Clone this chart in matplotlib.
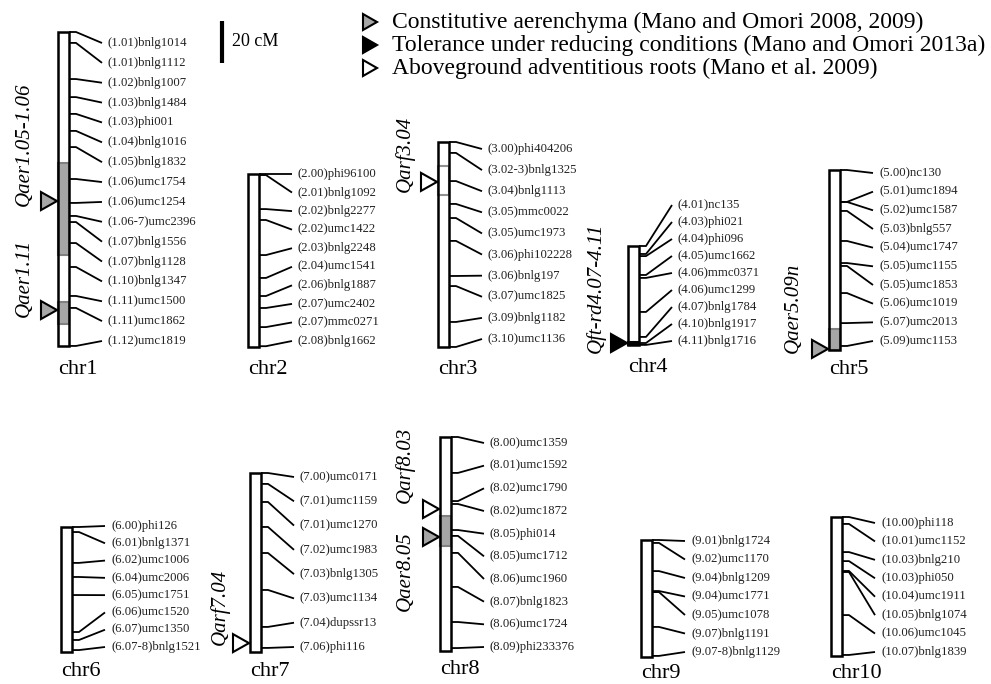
import matplotlib
matplotlib.use("Agg")
import matplotlib.pyplot as plt
from matplotlib.patches import Rectangle, Polygon

plt.rcParams['font.family'] = ['Liberation Serif', 'DejaVu Serif']

# ---------------- data (map positions in cM from top of linkage group) ----------------
chr1_markers = ["(1.01)bnlg1014", "(1.01)bnlg1112", "(1.02)bnlg1007", "(1.03)bnlg1484", "(1.03)phi001",
                "(1.04)bnlg1016", "(1.05)bnlg1832", "(1.06)umc1754", "(1.06)umc1254", "(1.06-7)umc2396",
                "(1.07)bnlg1556", "(1.07)bnlg1128", "(1.10)bnlg1347", "(1.11)umc1500", "(1.11)umc1862",
                "(1.12)umc1819"]
chr1_cm = [0, 5.2, 22.4, 31.0, 39.0, 47.1, 54.8, 70.0, 81.4, 87.6, 90.5, 100.5, 111.9, 125.7, 131.4, 149.5]

chr2_markers = ["(2.00)phi96100", "(2.01)bnlg1092", "(2.02)bnlg2277", "(2.02)umc1422", "(2.03)bnlg2248",
                "(2.04)umc1541", "(2.06)bnlg1887", "(2.07)umc2402", "(2.07)mmc0271", "(2.08)bnlg1662"]
chr2_cm = [0, 0.5, 16.7, 21.9, 38.6, 49.5, 58.1, 63.8, 72.9, 82.0]

chr3_markers = ["(3.00)phi404206", "(3.02-3)bnlg1325", "(3.04)bnlg1113", "(3.05)mmc0022", "(3.05)umc1973",
                "(3.06)phi102228", "(3.06)bnlg197", "(3.07)umc1825", "(3.09)bnlg1182", "(3.10)umc1136"]
chr3_cm = [0, 5.2, 18.6, 29.5, 36.2, 47.1, 63.8, 68.6, 85.7, 97.6]

chr4_markers = ["(4.01)nc135", "(4.03)phi021", "(4.04)phi096", "(4.05)umc1662", "(4.06)mmc0371",
                "(4.06)umc1299", "(4.07)bnlg1784", "(4.10)bnlg1917", "(4.11)bnlg1716"]
chr4_cm = [0, 3.8, 4.8, 13.8, 15.2, 31.4, 43.3, 46.2, 47.1]

chr5_markers = ["(5.00)nc130", "(5.01)umc1894", "(5.02)umc1587", "(5.03)bnlg557", "(5.04)umc1747",
                "(5.05)umc1155", "(5.05)umc1853", "(5.06)umc1019", "(5.07)umc2013", "(5.09)umc1153"]
chr5_cm = [0, 15.2, 15.2, 19.5, 33.8, 44.3, 45.7, 58.6, 72.9, 83.8]

chr6_markers = ["(6.00)phi126", "(6.01)bnlg1371", "(6.02)umc1006", "(6.04)umc2006", "(6.05)umc1751",
                "(6.06)umc1520", "(6.07)umc1350", "(6.07-8)bnlg1521"]
chr6_cm = [0, 2.4, 17.1, 23.8, 32.4, 50.0, 53.8, 58.6]

chr7_markers = ["(7.00)umc0171", "(7.01)umc1159", "(7.01)umc1270", "(7.02)umc1983", "(7.03)bnlg1305",
                "(7.03)umc1134", "(7.04)dupssr13", "(7.06)phi116"]
chr7_cm = [0, 5.2, 13.8, 25.7, 38.1, 55.7, 73.3, 83.3]

chr8_markers = ["(8.00)umc1359", "(8.01)umc1592", "(8.02)umc1790", "(8.02)umc1872", "(8.05)phi014",
                "(8.05)umc1712", "(8.06)umc1960", "(8.07)bnlg1823", "(8.06)umc1724", "(8.09)phi233376"]
chr8_cm = [0, 17.1, 30.5, 31.9, 44.3, 47.1, 55.2, 71.4, 88.1, 100.5]

chr9_markers = ["(9.01)bnlg1724", "(9.02)umc1170", "(9.04)bnlg1209", "(9.04)umc1771", "(9.05)umc1078",
                "(9.07)bnlg1191", "(9.07-8)bnlg1129"]
chr9_cm = [0, 1.4, 14.8, 24.3, 24.8, 41.4, 55.2]

chr10_markers = ["(10.00)phi118", "(10.01)umc1152", "(10.03)bnlg210", "(10.03)phi050", "(10.04)umc1911",
                 "(10.05)bnlg1074", "(10.06)umc1045", "(10.07)bnlg1839"]
chr10_cm = [0, 3.3, 16.7, 21.0, 25.7, 26.2, 46.7, 65.7]

chr_names = ["chr1", "chr2", "chr3", "chr4", "chr5", "chr6", "chr7", "chr8", "chr9", "chr10"]
chr_length_cm = [149.5, 82.4, 97.6, 47.1, 85.7, 59.5, 85.2, 101.9, 55.7, 66.2]

qtl_names = ["Qaer1.05-1.06", "Qaer1.11", "Qarf3.04", "Qft-rd4.07-4.11", "Qaer5.09n",
             "Qarf7.04", "Qarf8.03", "Qaer8.05"]
qtl_chr = [1, 1, 3, 4, 5, 7, 8, 8]
qtl_start_cm = [62.4, 128.6, 11.4, 45.7, 75.7, None, None, 37.6]
qtl_end_cm = [106.2, 139.0, 25.2, 47.1, 85.7, None, None, 51.9]
qtl_peak_cm = [80.5, 132.4, 19.0, 46.2, 85.2, 81.0, 34.3, 47.6]
qtl_trait = ["aer", "aer", "arf", "ft", "aer", "arf", "arf", "aer"]

legend_labels = ["Constitutive aerenchyma (Mano and Omori 2008, 2009)",
                 "Tolerance under reducing conditions (Mano and Omori 2013a)",
                 "Aboveground adventitious roots (Mano et al. 2009)"]
legend_traits = ["aer", "ft", "arf"]
scale_cm = 20

markers = [chr1_markers, chr2_markers, chr3_markers, chr4_markers, chr5_markers,
           chr6_markers, chr7_markers, chr8_markers, chr9_markers, chr10_markers]
positions = [chr1_cm, chr2_cm, chr3_cm, chr4_cm, chr5_cm, chr6_cm, chr7_cm, chr8_cm, chr9_cm, chr10_cm]

# ---------------- layout (pixels) ----------------
W, H = 991, 684
PX_PER_CM = 2.1
BAR_W = 11
chr_left = [58, 248, 438, 628, 829, 61, 250, 440, 641, 831]
chr_top = [32, 174, 142, 246, 170, 527, 473, 437, 540, 517]
lab_first = [43, 174, 149, 205, 173, 526, 477, 443, 541, 523]
lab_last = [341, 341, 339, 341, 341, 647, 647, 647, 652, 652]
name_y = [370, 370, 370, 368, 370, 671, 671, 670, 673, 673]
qtl_text_xy = [(24, 144), (24, 278), (405, 154), (596, 288), (793, 308), (220, 607), (405, 465), (405, 571)]

trait_face = {"aer": "#a6a6a6", "ft": "black", "arf": "white"}
region_face = {"aer": "#a6a6a6", "ft": "black", "arf": "white"}
region_edge = {"aer": "#808080", "ft": "black", "arf": "#909090"}

fig = plt.figure(figsize=(W / 100, H / 100), dpi=100)
ax = fig.add_axes([0, 0, 1, 1])
ax.set_xlim(0, W)
ax.set_ylim(H, 0)
ax.axis('off')


def ypx(ci, cm):
    return chr_top[ci] + cm * PX_PER_CM


def triangle(tip_x, y, face, w=16, h=18):
    return Polygon([(tip_x, y), (tip_x - w, y - h / 2), (tip_x - w, y + h / 2)], closed=True,
                   facecolor=face, edgecolor='black', lw=1.5, zorder=5)


for ci in range(10):
    x0 = chr_left[ci]
    xr = x0 + BAR_W
    top = chr_top[ci]
    bottom = ypx(ci, chr_length_cm[ci])
    ax.add_patch(Rectangle((x0, top), BAR_W, bottom - top, facecolor='white', edgecolor='none', zorder=1))
    # QTL regions
    for qi in range(len(qtl_names)):
        if qtl_chr[qi] == ci + 1 and qtl_start_cm[qi] is not None:
            y1, y2 = ypx(ci, qtl_start_cm[qi]), ypx(ci, qtl_end_cm[qi])
            t = qtl_trait[qi]
            ax.add_patch(Rectangle((x0, y1), BAR_W, y2 - y1, facecolor=region_face[t],
                                   edgecolor=region_edge[t], lw=1.5, zorder=2))
    ax.add_patch(Rectangle((x0, top), BAR_W, bottom - top, facecolor='none', edgecolor='black',
                           lw=1.8, zorder=3))
    # markers
    n = len(markers[ci])
    step = (lab_last[ci] - lab_first[ci]) / (n - 1)
    for k, (name, cm) in enumerate(zip(markers[ci], positions[ci])):
        yt = ypx(ci, cm)
        yl = lab_first[ci] + k * step
        ax.plot([xr, xr + 7, xr + 33], [yt, yt, yl], color='black', lw=1.3, zorder=3,
                solid_capstyle='butt')
        ax.text(xr + 39, yl, name, fontsize=9.2, va='center', ha='left', color='#222222')
    ax.text(x0, name_y[ci], chr_names[ci], fontsize=16, va='center', ha='left')

# QTL triangles and labels
for qi in range(len(qtl_names)):
    ci = qtl_chr[qi] - 1
    yp = ypx(ci, qtl_peak_cm[qi])
    ax.add_patch(triangle(chr_left[ci] - 1, yp, trait_face[qtl_trait[qi]]))
    tx, ty = qtl_text_xy[qi]
    ax.text(tx, ty, qtl_names[qi], rotation=90, fontsize=15, style='italic',
            va='center', ha='center')

# scale bar
sb_x, sb_top = 222, 21
ax.plot([sb_x, sb_x], [sb_top, sb_top + scale_cm * PX_PER_CM], color='black', lw=3,
        solid_capstyle='butt')
ax.text(sb_x + 10, sb_top + scale_cm * PX_PER_CM / 2, f"{scale_cm} cM", fontsize=13,
        va='center', ha='left')

# legend
for i, (lab, tr) in enumerate(zip(legend_labels, legend_traits)):
    yy = 22 + i * 23
    ax.add_patch(triangle(377, yy, trait_face[tr], w=14, h=16))
    ax.text(392, yy, lab, fontsize=17, va='center', ha='left')

fig.savefig("out.png", dpi=100)
